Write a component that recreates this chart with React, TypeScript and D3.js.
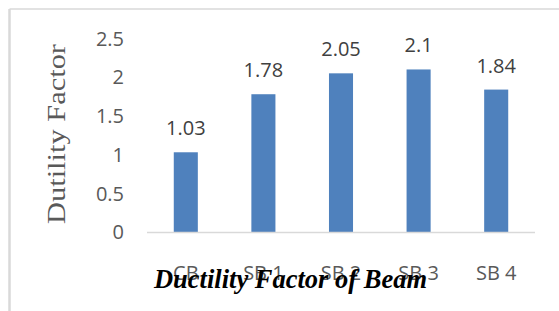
import React from 'react';
import * as d3 from 'd3';

const categories = ['CB', 'SB 1', 'SB 2', 'SB 3', 'SB 4'];
const values = [1.03, 1.78, 2.05, 2.1, 1.84];
const yTicks = [0, 0.5, 1, 1.5, 2, 2.5];

const W = 559;
const H = 311;

const App: React.FC = () => {
  const x = d3.scaleBand<string>()
    .domain(categories)
    .range([147, 535])
    .paddingInner(0.69)
    .paddingOuter(0.345);

  const y = d3.scaleLinear()
    .domain([0, 2.5])
    .range([232, 38.5]);

  const sans = '"Open Sans", "Noto Sans", sans-serif';
  const serif = '"Liberation Serif", "Times New Roman", serif';

  return (
    <svg width={W} height={H} style={{ position: 'absolute', left: 0, top: 0, background: '#fff' }}>
      {/* chart frame (only top and left edges visible) */}
      <line x1={9.5} y1={9} x2={W} y2={9} stroke="#d9d9d9" strokeWidth={1.5} />
      <line x1={9.5} y1={9} x2={9.5} y2={H} stroke="#d9d9d9" strokeWidth={2.5} />

      {/* y tick labels */}
      {yTicks.map(t => (
        <text key={t} x={124} y={y(t)} dy="0.36em" textAnchor="end"
          fill="#595959" fontFamily={sans} fontSize={20}>
          {t}
        </text>
      ))}

      {/* axis title */}
      <text transform={`translate(65, 134) rotate(-90)`} textAnchor="middle"
        fill="#595959" fontFamily={serif} fontSize={25}
        textLength={180} lengthAdjust="spacingAndGlyphs">
        Dutility Factor
      </text>

      {/* bars */}
      {categories.map((c, i) => (
        <rect key={c} x={x(c)} y={y(values[i])} width={x.bandwidth()}
          height={y(0) - y(values[i])} fill="#4f81bd" />
      ))}

      {/* baseline */}
      <line x1={147} x2={535} y1={y(0) + 0.5} y2={y(0) + 0.5} stroke="#d9d9d9" strokeWidth={1.5} />

      {/* value labels */}
      {categories.map((c, i) => (
        <text key={c} x={(x(c) ?? 0) + x.bandwidth() / 2} y={y(values[i]) - 17}
          textAnchor="middle" fill="#404040" fontFamily={sans} fontSize={20}>
          {values[i]}
        </text>
      ))}

      {/* category labels */}
      {categories.map(c => (
        <text key={c} x={(x(c) ?? 0) + x.bandwidth() / 2} y={279.5}
          textAnchor="middle" fill="#595959" fontFamily={sans} fontSize={20}>
          {c}
        </text>
      ))}

      {/* caption */}
      <text x={290.5} y={288} textAnchor="middle" fill="#000" fontFamily={serif}
        fontSize={26.5} fontWeight="bold" fontStyle="italic">
        Ductility Factor of Beam
      </text>
    </svg>
  );
};

export default App;
